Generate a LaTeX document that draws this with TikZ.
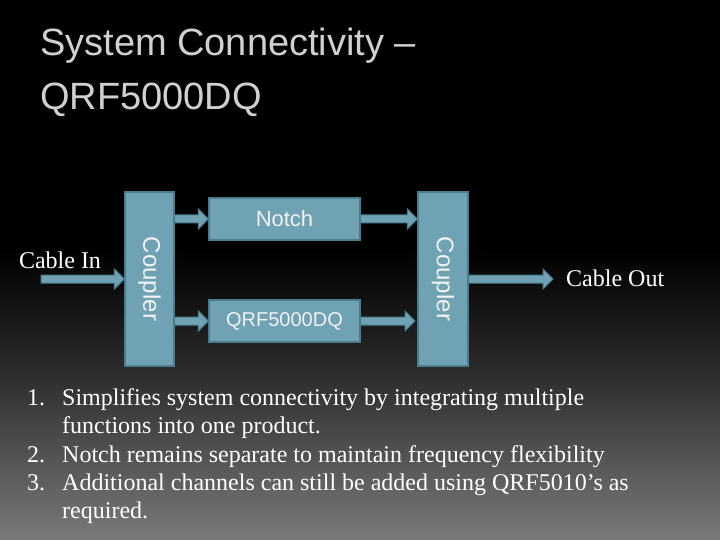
\documentclass[tikz,border=0pt]{standalone}
\usepackage{fontspec}
\setmainfont{Liberation Serif}
\setsansfont{Liberation Sans}
\usetikzlibrary{calc}

\definecolor{boxfill}{HTML}{6FA3B3}
\definecolor{boxline}{HTML}{4A7D8C}
\definecolor{titlegray}{HTML}{D0D0D0}
\definecolor{bgbot}{HTML}{7A7A7A}
\definecolor{bgmid}{HTML}{2B2B2B}
\definecolor{boxtext}{HTML}{F2F2F2}

\pgfdeclareverticalshading{slidebg}{100bp}{color(0bp)=(bgbot); color(25bp)=(bgbot); color(40.74bp)=(bgmid); color(51.85bp)=(black); color(100bp)=(black)}

\newcommand\blockarrow[2]{%
  \draw[arrowbox] let \p1=(#1), \p2=(#2) in
    (\x1,\y1+4pt) -- (\x2-10pt,\y1+4pt) -- (\x2-10pt,\y1+10pt) -- (\x2,\y1)
    -- (\x2-10pt,\y1-10pt) -- (\x2-10pt,\y1-4pt) -- (\x1,\y1-4pt) -- cycle;}

\begin{document}
\begin{tikzpicture}[x=1pt,y=-1pt,
  bluebox/.style={draw=boxline, fill=boxfill, line width=1.2pt, inner sep=0pt,
    font=\sffamily\fontsize{20}{24}\selectfont, text=boxtext},
  arrowbox/.style={draw=boxline, fill=boxfill, line width=1pt, line join=miter},
  title/.style={anchor=base west, inner sep=0pt, text=titlegray,
    font=\sffamily\fontsize{38}{42}\selectfont},
  label/.style={inner sep=0pt, text=white, font=\fontsize{24}{28}\selectfont},
  listtext/.style={anchor=base west, inner sep=0pt, text=white,
    font=\fontsize{24}{28}\selectfont}]

\useasboundingbox (0,0) rectangle (720,540);
\shade[shading=slidebg] (0,0) rectangle (720,540);

% title
\node[title] (t1) at (40,56) {System Connectivity –};
\node[title] (t2) at (40,110) {QRF5000DQ};

% boxes
\node[bluebox, minimum width=49pt, minimum height=174pt] (c1) at (149.5,279)
  {\fontsize{24}{26}\selectfont\rotatebox{-90}{Coupler}};
\node[bluebox, minimum width=151pt, minimum height=42pt] (n1) at (284.5,219)
  {\fontsize{22}{24}\selectfont Notch};
\node[bluebox, minimum width=151pt, minimum height=42pt] (q) at (284.5,321)
  {QRF5000DQ};
\node[bluebox, minimum width=50pt, minimum height=174pt] (c2) at (443,279)
  {\fontsize{24}{26}\selectfont\rotatebox{-90}{Coupler}};

\coordinate (cin) at (41,279);
\coordinate (cout) at (553,279);
\coordinate (qend) at (415,321);

% arrows
\blockarrow{cin}{c1.west |- cin}
\blockarrow{c1.east |- n1.west}{n1.west}
\blockarrow{c1.east |- q.west}{q.west}
\blockarrow{n1.east}{c2.west |- n1.east}
\blockarrow{q.east}{qend}
\blockarrow{c2.east |- cout}{cout}

% labels
\node[label] (lin) at (60,260) {Cable In};
\node[label, anchor=west] (lout) at (566,278) {Cable Out};

% list
\node[listtext] (b1) at (27,405) {1.};
\node[listtext] (l1a) at (62,405) {Simplifies system connectivity by integrating multiple};
\node[listtext] (l1b) at (62,433) {functions into one product.};
\node[listtext] (b2) at (27,462) {2.};
\node[listtext] (l2) at (62,462) {Notch remains separate to maintain frequency flexibility};
\node[listtext] (b3) at (27,490) {3.};
\node[listtext] (l3a) at (62,490) {Additional channels can still be added using QRF5010’s as};
\node[listtext] (l3b) at (62,518) {required.};
\end{tikzpicture}
\end{document}
